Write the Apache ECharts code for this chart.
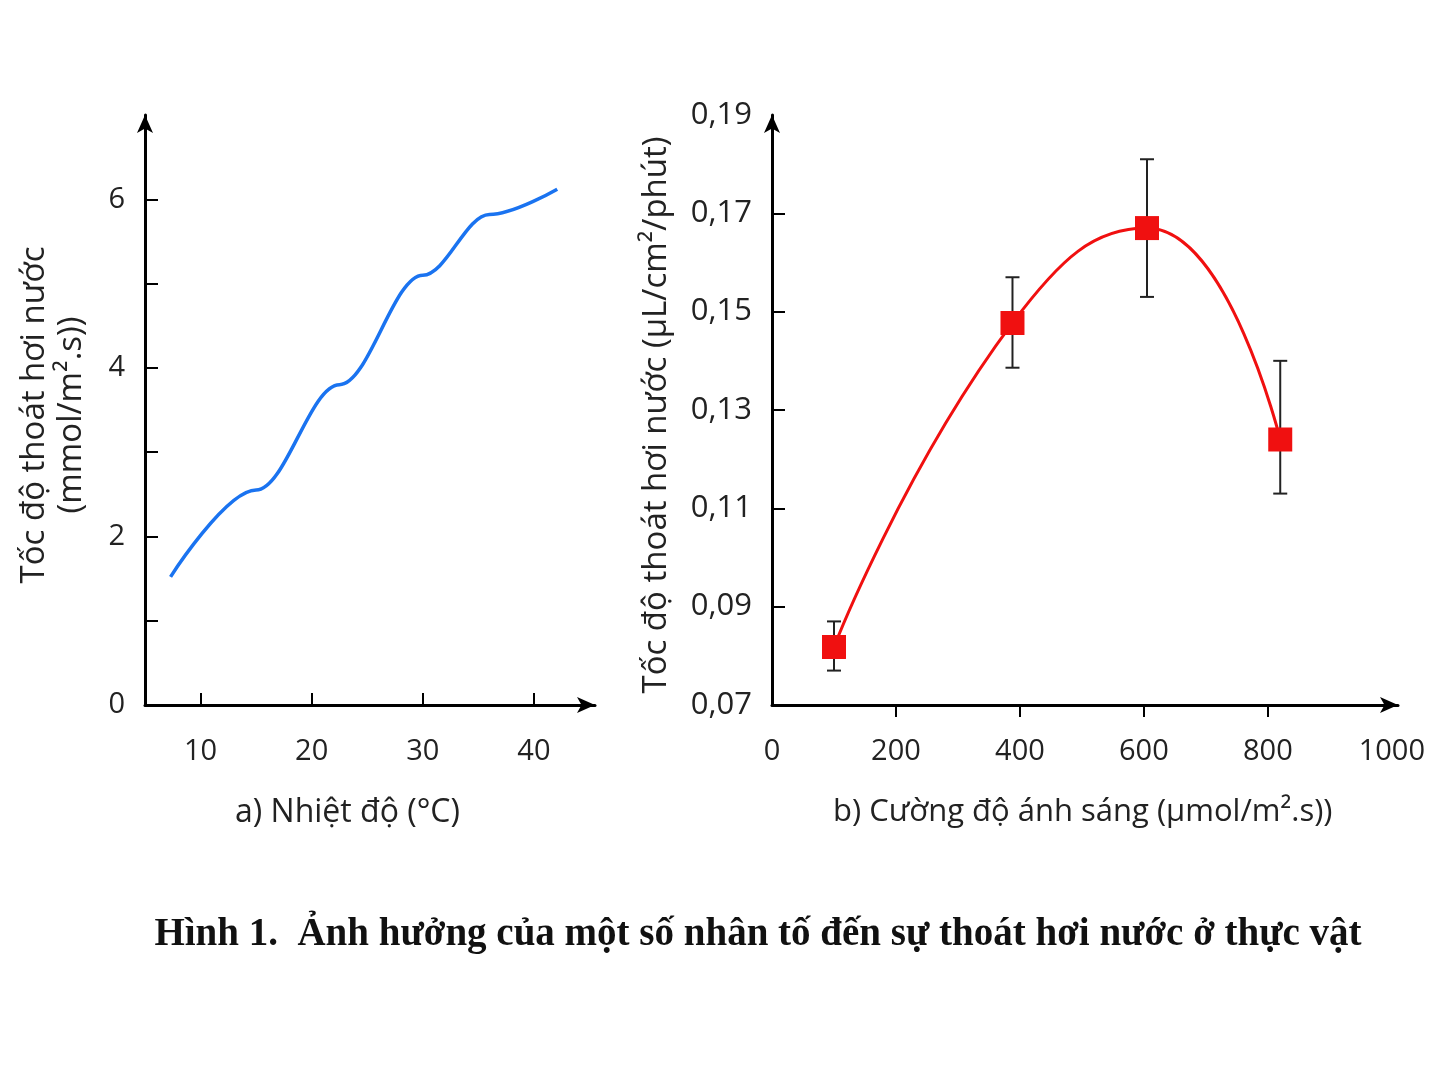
<!DOCTYPE html>
<html><head><meta charset="utf-8">
<script src="https://cdn.jsdelivr.net/npm/echarts@6/dist/echarts.min.js"></script>
<style>html,body{margin:0;background:#fff}#c{width:1448px;height:1086px}</style>
</head><body><div id="c"></div>
<script>
// a) nhiệt độ
const tempX = [7.3, 15, 22.5, 30, 36, 42.1];
const tempY = [1.52, 2.55, 3.8, 5.1, 5.82, 6.12];
// b) cường độ ánh sáng
const lightX = [100, 388, 605, 820];
const lightY = [0.0818, 0.1477, 0.167, 0.124];
const errLow = [0.077, 0.1386, 0.153, 0.113];
const errHigh = [0.087, 0.157, 0.181, 0.140];
const leftYTicks = [1, 2, 3, 4, 5, 6];
const leftYLabels = [0, 2, 4, 6];
const leftXTicks = [10, 20, 30, 40];
const rightYTicks = [0.07, 0.09, 0.11, 0.13, 0.15, 0.17, 0.19];
const rightXTicks = [200, 400, 600, 800];
const rightXLabels = [0, 200, 400, 600, 800, 1000];

const font = 'Open Sans';
const axisLine = {lineStyle: {color: '#000', width: 3}, symbol: ['none', 'arrow'], symbolSize: [12, 18]};
const label = {color: '#222', fontSize: 29, fontFamily: font};
const chart = echarts.init(document.getElementById('c'));
chart.setOption({
  animation: false,
  grid: [
    {left: 145, right: 853, top: 115, bottom: 381},
    {left: 772, right: 50, top: 115, bottom: 381}
  ],
  xAxis: [
    {gridIndex: 0, type: 'value', min: 5, max: 45.5, axisLine,
     splitLine: {show: false},
     axisTick: {customValues: leftXTicks, length: 12, lineStyle: {width: 2, color: '#000'}, inside: true},
     axisLabel: Object.assign({customValues: leftXTicks, margin: 32}, label)},
    {gridIndex: 1, type: 'value', min: 0, max: 1010, axisLine,
     splitLine: {show: false},
     axisTick: {customValues: rightXTicks, length: 12, lineStyle: {width: 2, color: '#000'}},
     axisLabel: Object.assign({customValues: rightXLabels, margin: 32, formatter: v => String(v)}, label)}
  ],
  yAxis: [
    {gridIndex: 0, type: 'value', min: 0, max: 7, axisLine,
     splitLine: {show: false},
     axisTick: {customValues: leftYTicks, length: 13, inside: true, lineStyle: {width: 2, color: '#000'}},
     axisLabel: Object.assign({customValues: leftYLabels, margin: 20}, label)},
    {gridIndex: 1, type: 'value', min: 0.07, max: 0.19, axisLine,
     splitLine: {show: false},
     axisTick: {customValues: rightYTicks.slice(1, 6), length: 13, inside: true, lineStyle: {width: 2, color: '#000'}},
     axisLabel: Object.assign({customValues: rightYTicks, margin: 20,
       formatter: v => v.toFixed(2).replace('.', ',')}, label, {fontSize: 31})}
  ],
  series: [
    {type: 'line', xAxisIndex: 0, yAxisIndex: 0, smooth: 0.35, smoothMonotone: 'x', symbol: 'none',
     lineStyle: {color: '#1a73f0', width: 3.5},
     data: tempX.map((x, i) => [x, tempY[i]])},
    {type: 'custom', xAxisIndex: 1, yAxisIndex: 1, z: 1,
     data: lightX.map((x, i) => [x, errLow[i], errHigh[i]]),
     renderItem: (params, api) => {
       const lo = api.coord([api.value(0), api.value(1)]);
       const hi = api.coord([api.value(0), api.value(2)]);
       const s = {stroke: '#222', lineWidth: 2};
       return {type: 'group', children: [
         {type: 'line', shape: {x1: lo[0], y1: lo[1], x2: hi[0], y2: hi[1]}, style: s},
         {type: 'line', shape: {x1: lo[0] - 7, y1: lo[1], x2: lo[0] + 7, y2: lo[1]}, style: s},
         {type: 'line', shape: {x1: hi[0] - 7, y1: hi[1], x2: hi[0] + 7, y2: hi[1]}, style: s}
       ]};
     }},
    {type: 'line', xAxisIndex: 1, yAxisIndex: 1, smooth: 0.5, symbol: 'rect', symbolSize: 24, z: 3,
     lineStyle: {color: '#f01010', width: 3}, itemStyle: {color: '#f01010'},
     data: lightX.map((x, i) => [x, lightY[i]])}
  ],
  graphic: [
    {type: 'text', left: 235, top: 797, style: {text: 'a) Nhiệt độ (°C)', fontSize: 32, fontFamily: font, fill: '#222'}},
    {type: 'text', left: 833, top: 797, style: {text: 'b) Cường độ ánh sáng (µmol/m².s))', fontSize: 31, fontFamily: font, fill: '#222'}},
    {type: 'text', x: 35, y: 415, rotation: Math.PI / 2,
     style: {text: 'Tốc độ thoát hơi nước', fontSize: 33, fontFamily: font, fill: '#222', align: 'center', verticalAlign: 'middle'}},
    {type: 'text', x: 72, y: 415, rotation: Math.PI / 2,
     style: {text: '(mmol/m².s))', fontSize: 33, fontFamily: font, fill: '#222', align: 'center', verticalAlign: 'middle'}},
    {type: 'text', x: 657, y: 415, rotation: Math.PI / 2,
     style: {text: 'Tốc độ thoát hơi nước (µL/cm²/phút)', fontSize: 33, fontFamily: font, fill: '#222', align: 'center', verticalAlign: 'middle'}},
    {type: 'text', x: 758, y: 935,
     style: {text: 'Hình 1.  Ảnh hưởng của một số nhân tố đến sự thoát hơi nước ở thực vật', fontSize: 39, fontWeight: 'bold',
       fontFamily: 'Liberation Serif', fill: '#111', align: 'center', verticalAlign: 'middle'}}
  ]
});
</script></body></html>
